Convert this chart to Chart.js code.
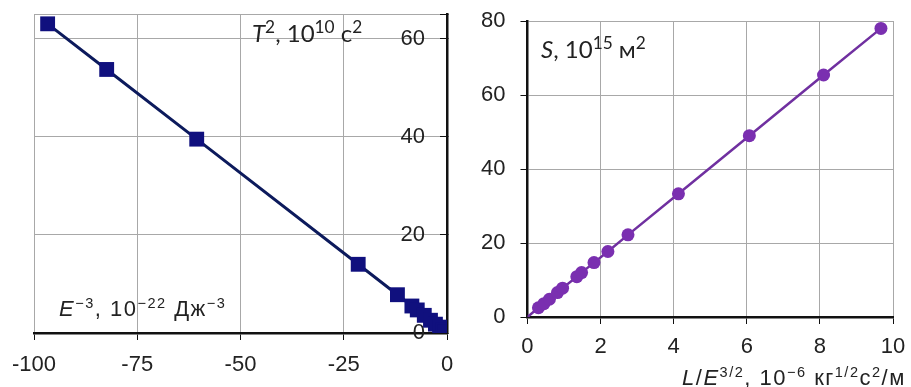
<!DOCTYPE html>
<html>
<head>
<meta charset="utf-8">
<script src="https://cdn.jsdelivr.net/npm/chart.js@4"></script>
<style>
  body { margin: 0; background: #fff; }
  #wrap { position: relative; width: 911px; height: 387px; overflow: hidden; }
  .box { position: absolute; top: 0; height: 387px; }
  .lbl { position: absolute; white-space: nowrap; color: #222; line-height: 1; }
  .lbl sup { font-size: 66%; vertical-align: 0; position: relative; top: -0.55em; }
  .cal { font-family: Lato, "Open Sans", sans-serif; font-size: 24px; }
  .cal sup { font-size: 72%; }
  .ari { font-family: "Liberation Sans", Arial, sans-serif; font-size: 22px; letter-spacing: 1.5px; }
</style>
</head>
<body>
<div id="wrap">
  <div class="box" style="left:0;width:460px"><canvas id="chartLeft" width="460" height="387"></canvas></div>
  <div class="box" style="left:460px;width:451px"><canvas id="chartRight" width="451" height="387"></canvas></div>
  <div class="lbl cal" style="left:252px;top:21px"><i>T</i><sup>2</sup>, 10<sup>10</sup> с<sup>2</sup></div>
  <div class="lbl ari" style="left:59px;top:298px"><i>E</i><sup>−3</sup>, 10<sup>−22</sup> Дж<sup>−3</sup></div>
  <div class="lbl cal" style="left:541px;top:37px"><i>S</i>, 10<sup>15</sup> м<sup>2</sup></div>
  <div class="lbl ari" style="left:682px;top:367px"><i>L</i>/<i>E</i><sup>3/2</sup>, 10<sup>−6</sup> кг<sup>1/2</sup>с<sup>2</sup>/м</div>
</div>
<script>
// left panel: T^2 vs E^-3
const eInv3 = [-96.7, -82.4, -60.6, -21.5, -12.0, -8.5, -7.2, -5.5, -4.0, -2.8, -1.8, -1.0, -0.4];
const tSq   = [63.0, 53.7, 39.5, 14.0, 7.8, 5.5, 4.7, 3.6, 2.6, 1.8, 1.2, 0.7, 0.3];

// right panel: S vs L/E^(3/2)
const lOverE = [0, 0.30, 0.45, 0.60, 0.82, 0.96, 1.35, 1.48, 1.82, 2.20, 2.75, 4.13, 6.07, 8.10, 9.67];
const sArea  = [0, 2.5, 3.6, 4.8, 6.6, 7.8, 10.9, 12.0, 14.7, 17.7, 22.2, 33.3, 49.0, 65.4, 78.0];

const leftTicksX = [-100, -75, -50, -25, 0];
const leftTicksY = [0, 20, 40, 60];
const rightTicksX = [0, 2, 4, 6, 8, 10];
const rightTicksY = [0, 20, 40, 60, 80];

const gridGray = '#a8a8a8';
const tickFont = { family: '"Liberation Sans", Arial, sans-serif', size: 22 };

Chart.defaults.color = '#222';
Chart.defaults.animation = false;

// axes should not push the plot area for their end labels, layout padding decides
const noEndPadding = axis => { axis.paddingTop = 0; axis.paddingBottom = 0; };
const fixXAxis = h => axis => { axis.paddingLeft = 0; axis.paddingRight = 0; axis.height = h; };

const ctxL = document.getElementById('chartLeft').getContext('2d');
const chartLeft = new Chart(ctxL, {
    type: 'scatter',
    data: {
        datasets: [{
            data: eInv3.map((x, i) => ({ x: x, y: tSq[i] })),
            showLine: true,
            borderColor: '#0c1a5c',
            borderWidth: 3,
            pointStyle: 'rect',
            pointRadius: 10.5,
            pointBackgroundColor: '#10107e',
            pointBorderColor: '#10107e',
            pointBorderWidth: 0
        }]
    },
    options: {
        responsive: false,
        layout: { padding: { left: 34, right: 11, top: 14, bottom: 0 } },
        plugins: { legend: { display: false }, tooltip: { enabled: false } },
        scales: {
            x: {
                type: 'linear',
                min: -100, max: 0,
                afterBuildTicks: axis => { axis.ticks = leftTicksX.map(v => ({ value: v })); },
                afterFit: fixXAxis(54),
                ticks: { font: tickFont, padding: 12, maxRotation: 0 },
                grid: { color: gridGray, tickColor: '#111', tickLength: 7, lineWidth: 1 },
                border: { color: '#111', width: 2.5 }
            },
            y: {
                type: 'linear',
                position: 'right',
                min: 0, max: 65,
                afterBuildTicks: axis => { axis.ticks = leftTicksY.concat([65]).map(v => ({ value: v })); },
                afterFit: axis => { noEndPadding(axis); axis.width = 2; },
                ticks: { font: tickFont, mirror: true, padding: -22, callback: v => (v % 20 === 0 ? v : '') },
                grid: { color: gridGray, tickColor: '#111', tickLength: -7, lineWidth: 1 },
                border: { color: '#111', width: 2.5 }
            }
        }
    }
});

const ctxR = document.getElementById('chartRight').getContext('2d');
const chartRight = new Chart(ctxR, {
    type: 'scatter',
    data: {
        datasets: [{
            data: lOverE.map((x, i) => ({ x: x, y: sArea[i] })),
            showLine: true,
            borderColor: '#7030a0',
            borderWidth: 2.5,
            pointRadius: ctx => (ctx.dataIndex === 0 ? 0 : 6.5),
            pointBackgroundColor: '#7a2fb0',
            pointBorderColor: '#7a2fb0',
            pointBorderWidth: 0
        }]
    },
    options: {
        responsive: false,
        layout: { padding: { left: 6, right: 18, top: 21, bottom: 0 } },
        plugins: { legend: { display: false }, tooltip: { enabled: false } },
        scales: {
            x: {
                type: 'linear',
                min: 0, max: 10,
                afterBuildTicks: axis => { axis.ticks = rightTicksX.map(v => ({ value: v })); },
                afterFit: fixXAxis(70),
                ticks: { font: tickFont, padding: 10, maxRotation: 0 },
                grid: { color: gridGray, tickColor: '#111', tickLength: 7, lineWidth: 1 },
                border: { color: '#111', width: 2.5 }
            },
            y: {
                type: 'linear',
                min: 0, max: 80,
                afterBuildTicks: axis => { axis.ticks = rightTicksY.map(v => ({ value: v })); },
                afterFit: noEndPadding,
                ticks: { font: tickFont, padding: 15 },
                grid: { color: gridGray, tickColor: '#111', tickLength: 7, lineWidth: 1 },
                border: { color: '#111', width: 2.5 }
            }
        }
    }
});
</script>
</body>
</html>
